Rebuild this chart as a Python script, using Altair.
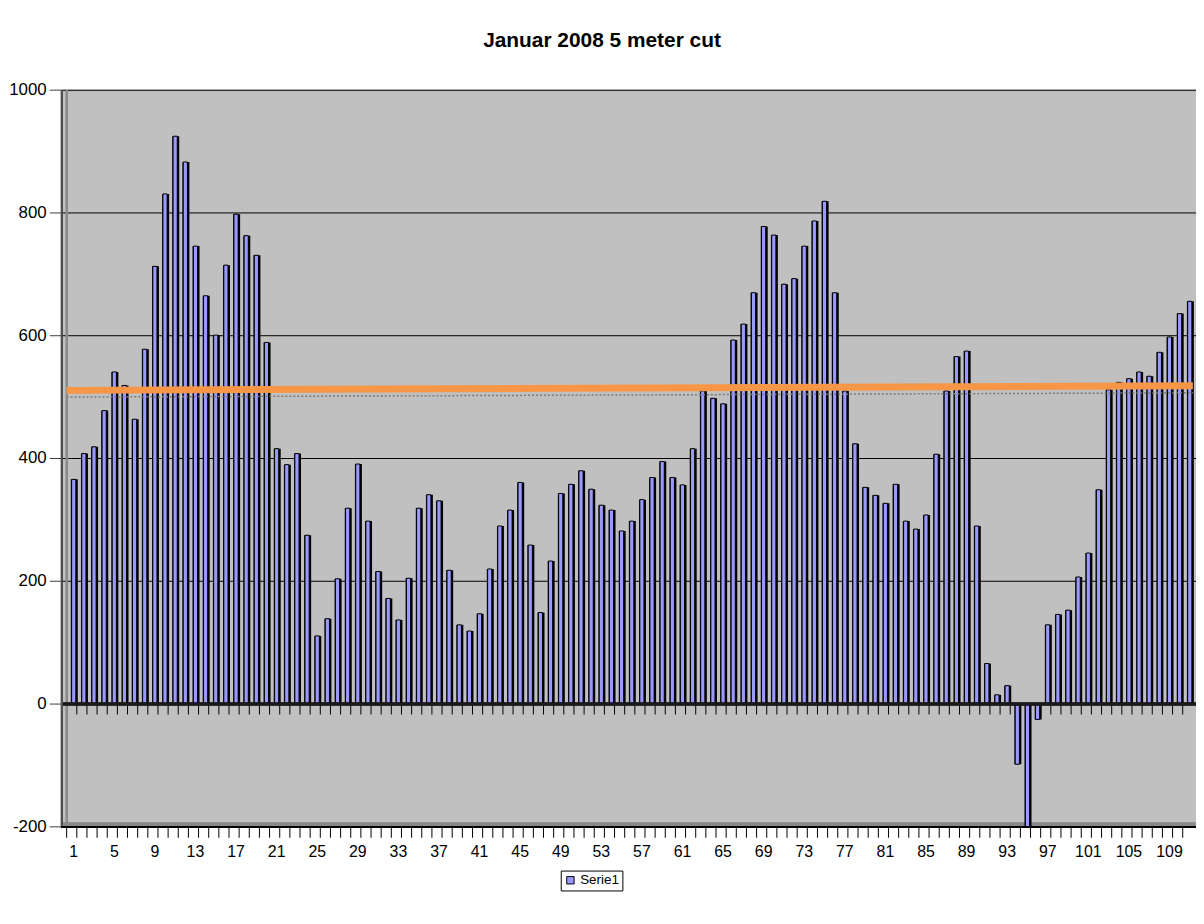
import altair as alt
import pandas as pd

# ---- data ----
CATEGORIES = list(range(1, 112))
VALUES = [366, 408, 419, 478, 541, 519, 464, 578, 713, 831,
          925, 883, 746, 665, 601, 715, 798, 763, 731, 589,
          416, 390, 408, 275, 111, 139, 204, 319, 391, 298,
          216, 172, 137, 205, 319, 341, 331, 218, 129, 119,
          147, 220, 290, 316, 361, 259, 149, 233, 343, 358,
          380, 350, 324, 316, 282, 298, 333, 369, 395, 369,
          357, 416, 510, 498, 489, 593, 619, 670, 778, 764,
          684, 693, 746, 787, 819, 670, 510, 424, 353, 340,
          327, 358, 298, 285, 308, 407, 510, 566, 575, 290,
          66, 15, 30, -98, -200, -25, 129, 146, 153, 207,
          246, 349, 512, 524, 530, 541, 534, 573, 598, 636, 656]
SERIES = "Serie1"
Y_TICKS = [-200, 0, 200, 400, 600, 800, 1000]
X_LABELS = list(range(1, 112, 4))
TREND_X = [0.5, 111.5]
TREND_Y = [511, 518.5]
SHADOW_Y = [500, 507]
TITLE = "Januar 2008 5 meter cut"

FONT = "Liberation Sans"
W, H = 1141, 741
XMAX = 0.5 + W / 10.296

bars = pd.DataFrame({"idx": CATEGORIES, "value": VALUES, "series": SERIES})
bounds_all = [c - 0.5 for c in CATEGORIES] + [CATEGORIES[-1] + 0.5]
bounds_all = [b for b in bounds_all if b <= XMAX]
bounds_df = pd.DataFrame({"b": bounds_all})
floor = pd.DataFrame({"b": [b for b in bounds_all if b > 0.5]})
yticks = pd.DataFrame({"v": Y_TICKS, "t": [str(v) for v in Y_TICKS]})
xlabels = pd.DataFrame({"c": X_LABELS, "t": [str(c) for c in X_LABELS]})
trend = pd.DataFrame({"x": TREND_X, "y": TREND_Y})
shadow = pd.DataFrame({"x": TREND_X, "y": SHADOW_Y})

xscale = alt.Scale(domain=[0.5, XMAX], nice=False, zero=False)
yscale = alt.Scale(domain=[-200, 1000], nice=False, zero=False)

# ---- gridlines and axis pieces (drawn through the scales) ----
grid = alt.Chart(yticks).mark_rule(color="black", strokeWidth=1).encode(
    y=alt.Y("v:Q", scale=yscale, axis=None),
)
y_ticks = alt.Chart(yticks).mark_rule(color="#404040", strokeWidth=1).encode(
    x=alt.value(-12), x2=alt.value(0),
    y=alt.Y("v:Q", scale=yscale, axis=None),
)
y_labels = alt.Chart(yticks).mark_text(
    align="right", baseline="middle", font=FONT, fontSize=17, color="black"
).encode(
    x=alt.value(-15),
    y=alt.Y("v:Q", scale=yscale, axis=None),
    text="t:N",
)
y_domain = alt.Chart(yticks).mark_rule(color="#505050", strokeWidth=1.5).encode(
    x=alt.value(0), y=alt.value(0), y2=alt.value(H),
)
x_ticks = alt.Chart(bounds_df).mark_rule(color="black", strokeWidth=1).encode(
    x=alt.X("b:Q", scale=xscale, axis=None),
    y=alt.value(H), y2=alt.value(H + 11),
)
x_domain = alt.Chart(bounds_df).mark_rule(color="black", strokeWidth=1.5).encode(
    x=alt.value(0), x2=alt.value(W), y=alt.value(H),
)
x_labels = alt.Chart(xlabels).mark_text(
    align="center", baseline="middle", font=FONT, fontSize=16, color="black",
    dx=2,
).encode(
    x=alt.X("c:Q", scale=xscale, axis=None),
    y=alt.value(H + 25),
    text="t:N",
)

floor_ticks = alt.Chart(floor).mark_rule(color="black", strokeWidth=1).encode(
    x=alt.X("b:Q", scale=xscale, axis=None),
    y=alt.Y(datum=0, scale=yscale, axis=None),
    y2=alt.Y2(datum=-17),
)

bar_back = alt.Chart(bars).mark_bar(
    color="black", width=7, xOffset=2.6, clip=True
).encode(
    x=alt.X("idx:Q", scale=xscale, axis=None),
    y=alt.Y("value:Q", scale=yscale, axis=None),
)

bar_front = alt.Chart(bars).mark_bar(
    width=4.2, xOffset=2.0, stroke="black", strokeWidth=1, clip=True
).encode(
    x=alt.X("idx:Q", scale=xscale, axis=None),
    y=alt.Y("value:Q", scale=yscale, axis=None),
    color=alt.Color(
        "series:N",
        scale=alt.Scale(range=["#9999FF"]),
        legend=alt.Legend(
            orient="none", legendX=502, legendY=785, title=None,
            symbolType="square", symbolSize=55, symbolStrokeColor="black",
            symbolStrokeWidth=1, labelFont=FONT, labelFontSize=13.5,
            labelColor="black", padding=3, strokeColor="black",
            fillColor="white", labelOffset=3,
        ),
    ),
)

zero_line = alt.Chart(yticks).mark_rule(color="#1a1a1a", strokeWidth=2.5).encode(
    y=alt.Y(datum=0, scale=yscale, axis=None),
)

left_wall = alt.Chart(yticks).mark_rule(color="#8a8a8a", strokeWidth=1.5).encode(
    x=alt.value(5), y=alt.value(0), y2=alt.value(H),
)
bottom_wall = alt.Chart(yticks).mark_rule(color="#8a8a8a", strokeWidth=3).encode(
    x=alt.value(0), x2=alt.value(W), y=alt.value(H - 2.5),
)

shadow_line = alt.Chart(shadow).mark_line(
    color="#7a7a7a", strokeWidth=1.5, strokeDash=[2, 2], clip=True
).encode(
    x=alt.X("x:Q", scale=xscale, axis=None),
    y=alt.Y("y:Q", scale=yscale, axis=None),
)

trend_line = alt.Chart(trend).mark_line(
    color="#F79646", strokeWidth=7, clip=True
).encode(
    x=alt.X("x:Q", scale=xscale, axis=None),
    y=alt.Y("y:Q", scale=yscale, axis=None),
)

chart = alt.layer(
    grid, left_wall, bottom_wall, floor_ticks, bar_back, bar_front,
    zero_line, shadow_line, trend_line,
    y_domain, y_ticks, y_labels, x_domain, x_ticks, x_labels,
).properties(
    width=W, height=H, autosize="none", background="white",
    padding={"left": 54, "top": 80, "right": 0, "bottom": 80},
    title=alt.TitleParams(
        TITLE, font=FONT, fontSize=21, fontWeight="bold", color="black",
        anchor="middle", frame="group", dx=-27, offset=30,
    ),
).configure_view(
    fill="#C0C0C0", stroke="#808080", strokeWidth=1,
)

chart.save("out.html", embed_options={"renderer": "svg", "actions": False})
